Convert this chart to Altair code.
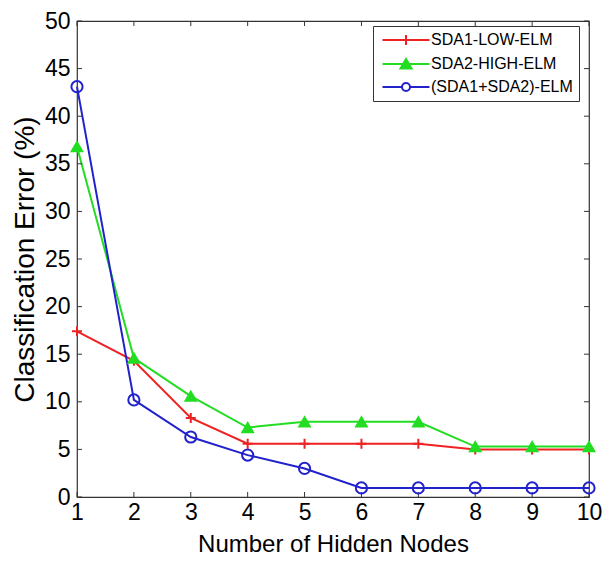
import altair as alt
import pandas as pd

nodes = [1, 2, 3, 4, 5, 6, 7, 8, 9, 10]
sda1_low = [17.4, 14.3, 8.3, 5.6, 5.6, 5.6, 5.6, 5.0, 5.0, 5.0]
sda2_high = [36.8, 14.6, 10.6, 7.3, 7.9, 7.9, 7.9, 5.3, 5.3, 5.3]
sda12 = [43.1, 10.2, 6.3, 4.4, 3.0, 0.95, 0.95, 0.95, 0.95, 0.95]
series_names = ["SDA1-LOW-ELM", "SDA2-HIGH-ELM", "(SDA1+SDA2)-ELM"]
series_colors = ["#ee2222", "#22dd22", "#2222cc"]
x_ticks = [1, 2, 3, 4, 5, 6, 7, 8, 9, 10]
y_ticks = [0, 5, 10, 15, 20, 25, 30, 35, 40, 45, 50]

rows = []
for name, vals in zip(series_names, [sda1_low, sda2_high, sda12]):
    for n, v in zip(nodes, vals):
        rows.append({"nodes": n, "err": v, "series": name})
df = pd.DataFrame(rows)

W, H = 512, 476
FONT = "Liberation Sans, Arial"

xscale = alt.Scale(domain=[1, 10], nice=False, zero=False)
yscale = alt.Scale(domain=[0, 50], nice=False)

legend_paths = [
    "M-4.7,0H4.7M0,-1V1",
    "M-4.7,0H4.7M-1.1,0.9L0,-1L1.1,0.9Z",
    "M-4.7,0H-0.8A0.8,0.8 0 1,1 0.8,0A0.8,0.8 0 1,1 -0.8,0M0.8,0H4.7",
]
legend_fills = ["transparent", "#22dd22", "transparent"]

legend = alt.Legend(
    title=None, orient="none", legendX=296, legendY=5,
    strokeColor="#333333", fillColor="white", padding=6,
    symbolSize=100, symbolOffset=19, labelOffset=17,
    labelFont=FONT, labelFontSize=16, labelColor="black", labelLimit=300,
    rowPadding=6, symbolStrokeWidth=2, symbolOpacity=1,
)

x_axis = alt.Axis(values=x_ticks, format="d", ticks=False, tickSize=0,
                  domain=False, grid=False, labelFont=FONT,
                  labelFontSize=23, labelColor="black", labelPadding=4,
                  labelFlush=False, labelOverlap=False,
                  titleFont=FONT, titleFontSize=24,
                  titleFontWeight="normal", titleColor="black",
                  titlePadding=8)
y_axis = alt.Axis(values=y_ticks, format="d", ticks=False, tickSize=0,
                  domain=False, grid=False, labelFont=FONT,
                  labelFontSize=23, labelColor="black", labelPadding=7,
                  labelOverlap=False, labelFlush=False,
                  titleFont=FONT, titleFontSize=28,
                  titleFontWeight="normal", titleColor="black",
                  titlePadding=5)

def X():
    return alt.X("nodes:Q", scale=xscale, title="Number of Hidden Nodes", axis=x_axis)

def Y():
    return alt.Y("err:Q", scale=yscale, title="Classification Error (%)", axis=y_axis)

color_scale = alt.Scale(domain=series_names, range=series_colors)

lines = alt.Chart(df).mark_line(strokeWidth=2).encode(
    x=X(), y=Y(),
    color=alt.Color("series:N", scale=color_scale, legend=legend),
)

# legend-only layer (no rows drawn; entries come from the explicit scale domain)
legend_layer = alt.Chart(df).transform_filter("datum.err < 0").mark_point(
    strokeWidth=2, size=100, opacity=1
).encode(
    x=X(), y=Y(),
    color=alt.Color("series:N", scale=color_scale, legend=legend),
    shape=alt.Shape("series:N", scale=alt.Scale(domain=series_names, range=legend_paths),
                    legend=legend),
    fill=alt.Fill("series:N", scale=alt.Scale(domain=series_names, range=legend_fills),
                  legend=legend),
)

def pts(name, **kw):
    return alt.Chart(df).transform_filter(alt.datum.series == name).mark_point(**kw).encode(
        x=X(), y=Y(),
    )

p1 = pts(series_names[0], shape="M-1,0H1M0,-1V1", filled=False, color=series_colors[0],
         size=100, strokeWidth=2, opacity=1)
p2 = pts(series_names[1], shape="triangle-up", filled=True, color=series_colors[1],
         size=130, stroke=series_colors[1], strokeWidth=1.5, opacity=1)
p3 = pts(series_names[2], shape="circle", filled=False, color=series_colors[2],
         size=125, strokeWidth=2, opacity=1)

xt = pd.DataFrame({"nodes": x_ticks})
yt = pd.DataFrame({"err": y_ticks})
TL = 5
tick_x_bottom = alt.Chart(xt).mark_rule(color="#333333", strokeWidth=1).encode(
    x=X(), y=alt.value(H), y2=alt.value(H - TL))
tick_x_top = alt.Chart(xt).mark_rule(color="#333333", strokeWidth=1).encode(
    x=X(), y=alt.value(0), y2=alt.value(TL))
tick_y_left = alt.Chart(yt).mark_rule(color="#333333", strokeWidth=1).encode(
    y=Y(), x=alt.value(0), x2=alt.value(TL))
tick_y_right = alt.Chart(yt).mark_rule(color="#333333", strokeWidth=1).encode(
    y=Y(), x=alt.value(W), x2=alt.value(W - TL))

chart = alt.layer(
    lines, tick_x_bottom, tick_x_top, tick_y_left, tick_y_right, p1, p2, p3, legend_layer
).properties(
    width=W, height=H,
    background="white",
    autosize=alt.AutoSizeParams(type="none"),
    padding={"left": 69, "top": 13, "right": 14, "bottom": 60},
).configure_view(stroke="#333333", strokeWidth=1.2)

chart.save("out.html", embed_options={"renderer": "svg", "actions": False})
